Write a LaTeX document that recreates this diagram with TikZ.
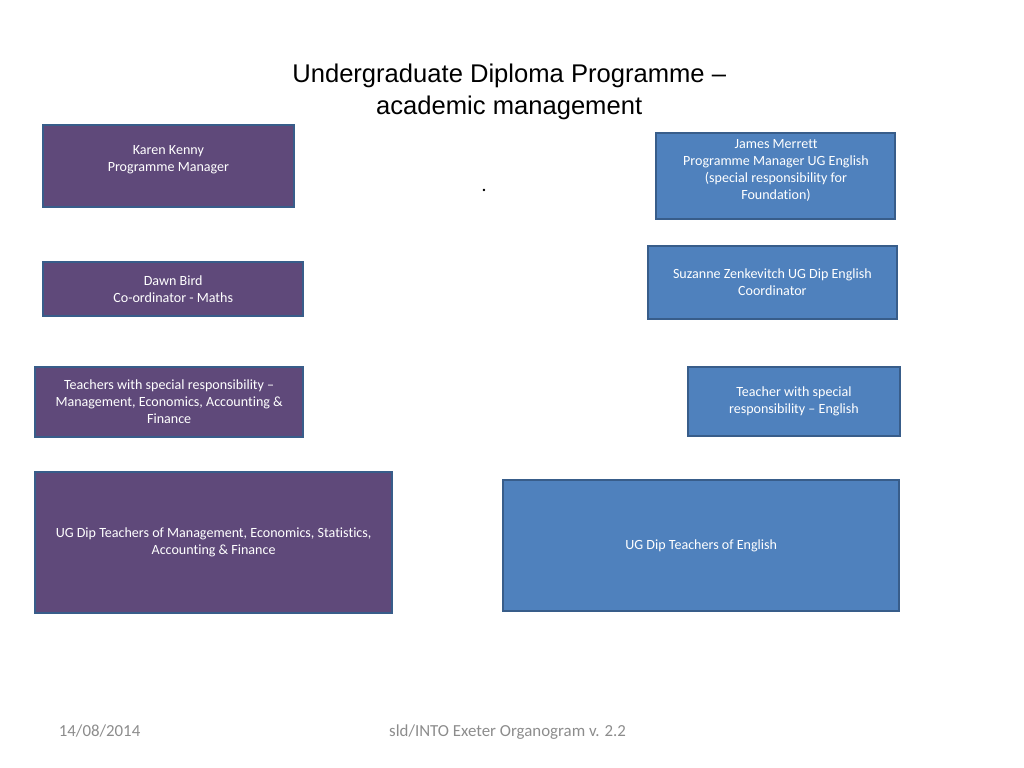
\documentclass[tikz,border=0pt]{standalone}
\usepackage{fontspec}
\setmainfont{Carlito}[Ligatures=NoCommon]
\newfontfamily\titlefont{Liberation Sans}
\usetikzlibrary{positioning}

\definecolor{mgmtpurple}{HTML}{5F497A}
\definecolor{engblue}{HTML}{4F81BD}
\definecolor{edgeblue}{HTML}{385D8A}
\definecolor{footgray}{HTML}{8C8C8C}

\begin{document}
\begin{tikzpicture}[
  font=\fontsize{10pt}{12.1pt}\selectfont,
  card/.style    = {draw=edgeblue, line width=1.4pt, inner sep=0pt, align=center,
                    text=white},
  mgmtcard/.style = {card, fill=mgmtpurple},
  engcard/.style  = {card, fill=engblue},
  cardtext/.style = {inner sep=0pt, align=center, text=white},
  foot/.style    = {inner sep=0pt, anchor=base, text=footgray, font=\fontsize{12pt}{14pt}\selectfont},
]
\useasboundingbox (0,0) rectangle (25.6,19.2);

% =============== title ===============
\node[inner sep=0pt, align=center, font=\titlefont\fontsize{18.2pt}{23pt}\selectfont]
  (title) at (12.73,16.90) {Undergraduate Diploma Programme –\\academic management};
\node[inner sep=0pt, anchor=base, font=\fontsize{14pt}{17pt}\selectfont] (dot) at (12.10,14.40) {.};

% =============== left column: management, economics, maths ===============
\node[mgmtcard, minimum width=6.28cm, minimum height=2.05cm] (karen) at (4.21,15.05) {};
\node[cardtext] (karentxt) at (4.21,15.21) {Karen Kenny\\Programme Manager};

\node[mgmtcard, minimum width=6.50cm, minimum height=1.35cm] (dawn) at (4.33,11.98)
  {Dawn Bird\\Co-ordinator - Maths};

\node[mgmtcard, minimum width=6.70cm, minimum height=1.75cm] (tmgmt) at (4.23,9.15)
  {Teachers with special responsibility –\\Management, Economics, Accounting \&\\Finance};

\node[mgmtcard, minimum width=8.93cm, minimum height=3.53cm] (ugmgmt) at (5.34,5.64)
  {UG Dip Teachers of Management, Economics, Statistics,\\Accounting \& Finance};

% =============== right column: English ===============
\node[engcard, minimum width=5.98cm, minimum height=2.15cm] (james) at (19.39,14.80) {};
\node[cardtext] (jamestxt) at (19.40,14.95)
  {James Merrett\\Programme Manager UG English\\(special responsibility for\\Foundation)};

\node[engcard, minimum width=6.23cm, minimum height=1.83cm] (suzanne) at (19.31,12.14)
  {Suzanne Zenkevitch UG Dip English\\Coordinator};

\node[engcard, minimum width=5.30cm, minimum height=1.73cm] (teng) at (19.85,9.16)
  {Teacher with special\\responsibility – English};

\node[engcard, minimum width=9.90cm, minimum height=3.28cm] (ugeng) at (17.53,5.56)
  {UG Dip Teachers of English};

% =============== footer ===============
\node[foot] (date) at (2.49,0.78) {14/08/2014};
\node[foot] (sld) at (12.69,0.78) {sld/INTO Exeter Organogram v. 2.2};

\end{tikzpicture}
\end{document}
